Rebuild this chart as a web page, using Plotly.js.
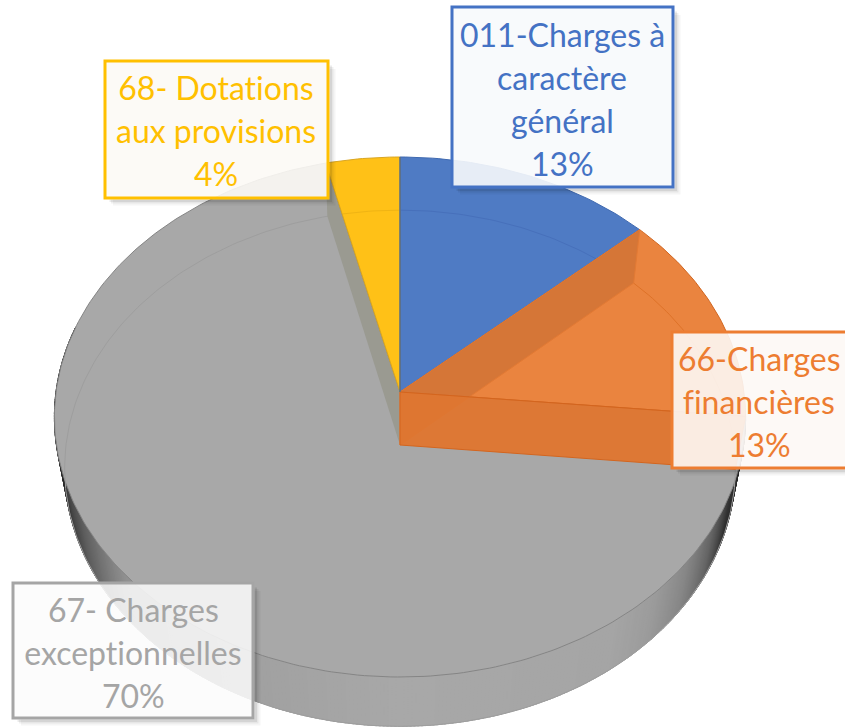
<!DOCTYPE html>
<html>
<head>
<meta charset="utf-8">
<script src="https://cdn.plot.ly/plotly-3.0.1.min.js"></script>
<style>html,body{margin:0;padding:0;background:#fff}#chart{width:845px;height:727px}
#chart text{font-variant-ligatures:none;font-feature-settings:"liga" 0}</style>
</head>
<body>
<div id="chart"></div>
<script>
// Data
const categories = ["011-Charges à caractère général", "66-Charges financières", "67- Charges exceptionnelles", "68- Dotations aux provisions"];
const values = [13.3, 13.2, 69.7, 3.8];
const labelLines = [
  ["011-Charges à", "caractère", "général"],
  ["66-Charges", "financières"],
  ["67- Charges", "exceptionnelles"],
  ["68- Dotations", "aux provisions"]
];
const colors = ["#4472C4", "#ED7D31", "#A5A5A5", "#FFC000"];

// Presentation: perspective disc geometry and label boxes
const topDisc = {cx: 400, cy: 392, A: 344, B: 257.6, k: 0.0962};
const baseDisc = {cx: 400, cy: 445, A: 334, B: 256, k: 0.09};
const boxes = [
  {x0: 452, x1: 673, y0: 7, y1: 187, tx: 562, ty: 34, fill: "rgba(247,249,252,0.9)"},
  {x0: 672, x1: 860, y0: 332, y1: 468, tx: 759, ty: 358, fill: "rgba(253,248,245,0.9)"},
  {x0: 13, x1: 253, y0: 583, y1: 718, tx: 133, ty: 609, fill: "rgba(252,252,252,0.85)"},
  {x0: 105, x1: 328, y0: 61, y1: 198, tx: 216, ty: 87, fill: "rgba(252,250,245,0.9)"}
];
const lineGap = 43;
const wallStops = [[95, 30], [112, 50], [120, 100], [128, 135], [136, 155], [145, 165], [180, 168], [205, 160], [228, 145], [236, 115], [246, 80], [258, 45], [268, 25], [285, 25]];

const total = values.reduce((a, b) => a + b, 0);
const edges = [0];
values.forEach(v => edges.push(edges[edges.length - 1] + v / total * 360));

function pt(d, deg) {
  const t = deg * Math.PI / 180, u = Math.sin(t), v = Math.cos(t), w = 1 + d.k * v;
  return [d.cx + d.A * u / w, d.cy - d.B * v / w];
}
function arc(d, a, b) {
  const n = Math.max(2, Math.ceil(Math.abs(b - a))), out = [];
  for (let i = 0; i <= n; i++) out.push(pt(d, a + (b - a) * i / n));
  return out;
}
const traces = [];
function poly(points, fill, line, width, closed) {
  const xs = points.map(p => p[0]), ys = points.map(p => p[1]);
  if (closed !== false) { xs.push(xs[0]); ys.push(ys[0]); }
  traces.push({
    type: "scatter", mode: "lines", x: xs, y: ys, hoverinfo: "skip", showlegend: false,
    fill: fill ? "toself" : "none", fillcolor: fill || undefined,
    line: {color: line || "rgba(0,0,0,0)", width: width === undefined ? 1 : width}
  });
}
function wallGray(deg) {
  for (let i = 1; i < wallStops.length; i++) {
    if (deg <= wallStops[i][0]) {
      const s = wallStops[i - 1], e = wallStops[i], f = (deg - s[0]) / (e[0] - s[0]);
      const g = Math.round(s[1] + (e[1] - s[1]) * Math.max(0, f));
      return "rgb(" + g + "," + g + "," + g + ")";
    }
  }
  return "rgb(25,25,25)";
}
const apex = [topDisc.cx, topDisc.cy], lowApex = [baseDisc.cx, baseDisc.cy];
// Part of the base ring on the near side of a slice's top edge
function ringInside(a, b, edgeDeg, sign) {
  const e = pt(topDisc, edgeDeg);
  return arc(baseDisc, a, b).filter(p => sign * ((e[0] - apex[0]) * (p[1] - apex[1]) - (e[1] - apex[1]) * (p[0] - apex[0])) > 0);
}

// Grey outer wall, drawn in narrow strips for the shading
for (let a = edges[2]; a < 285; a += 0.6) {
  const b = Math.min(a + 0.9, 285);
  const c = wallGray(a);
  poly(arc(topDisc, a, b).concat(arc(baseDisc, b, a)), c, c, 1);
}

// Grey slice
poly([apex].concat(arc(topDisc, edges[2], edges[3])), "#A8A8A8", "#858585", 1);
poly(arc(baseDisc, edges[2], edges[3]), null, "#9e9e9e", 1, false);
poly([apex, pt(topDisc, edges[3]), pt(baseDisc, edges[3]), lowApex], "rgba(140,140,122,0.5)", null, 0);

// Blue slice
poly([apex].concat(arc(topDisc, edges[0], edges[1])), "#4F7BC4", "#3F69B0", 1);
poly(ringInside(edges[0], edges[1], edges[1], -1), null, "#4770BB", 1, false);

// Orange slice with its two see-through inner walls
poly([apex].concat(arc(topDisc, edges[1], edges[2])), "#EA843F", "#D0651F", 1);
poly(arc(baseDisc, edges[1], edges[2]), null, "#DE7228", 1, false);
poly([apex, pt(topDisc, edges[1]), pt(baseDisc, edges[1]), lowApex], "rgba(205,112,52,0.72)", "#E27A34", 1);
poly([apex, pt(topDisc, edges[2]), pt(baseDisc, edges[2]), lowApex], "rgba(223,118,48,0.96)", "#D4651E", 1);

// Yellow slice
poly([apex].concat(arc(topDisc, edges[3], edges[4])), "#FFC117", "#D9A520", 1);
poly(ringInside(edges[3], edges[4], edges[3], 1), null, "#F0B414", 1, false);
poly([apex, pt(topDisc, 0)], null, "#3A5F9E", 1.2, false);

// Label boxes and text
const shapes = [], annotations = [];
boxes.forEach((b, i) => {
  [[6, 0.04], [4, 0.06], [2.5, 0.08]].forEach(s => {
    const x0 = b.x0 + s[0] + 2, x1 = b.x1 + 1.5 + s[0], y0 = b.y0 + s[0] + 2, y1 = b.y1 + 1.5 + s[0];
    const xi = b.x1 + 1.5, yi = b.y1 + 1.5;
    shapes.push({
      type: "path", xref: "x", yref: "y", layer: "above",
      path: `M${xi},${y0} L${x1},${y0} L${x1},${y1} L${x0},${y1} L${x0},${yi} L${xi},${yi} Z`,
      fillcolor: "rgba(0,0,0," + s[1] + ")", line: {width: 0}
    });
  });
  shapes.push({
    type: "rect", xref: "x", yref: "y", layer: "above",
    x0: b.x0, x1: b.x1, y0: b.y0, y1: b.y1, fillcolor: b.fill, line: {color: colors[i], width: 3}
  });
  const lines = labelLines[i].concat([Math.round(values[i] / total * 100) + "%"]);
  lines.forEach((t, j) => annotations.push({
    xref: "x", yref: "y", x: b.tx, y: b.ty + j * lineGap, text: t, showarrow: false,
    xanchor: "center", yanchor: "middle",
    font: {family: "Lato, Carlito, sans-serif", size: 32, color: colors[i]}
  }));
});

Plotly.newPlot("chart", traces, {
  width: 845, height: 727, margin: {l: 0, r: 0, t: 0, b: 0},
  paper_bgcolor: "#fff", plot_bgcolor: "#fff", showlegend: false,
  xaxis: {range: [0, 845], visible: false, fixedrange: true},
  yaxis: {range: [727, 0], visible: false, fixedrange: true},
  shapes: shapes, annotations: annotations
}, {displayModeBar: false, staticPlot: true});
</script>
</body>
</html>
